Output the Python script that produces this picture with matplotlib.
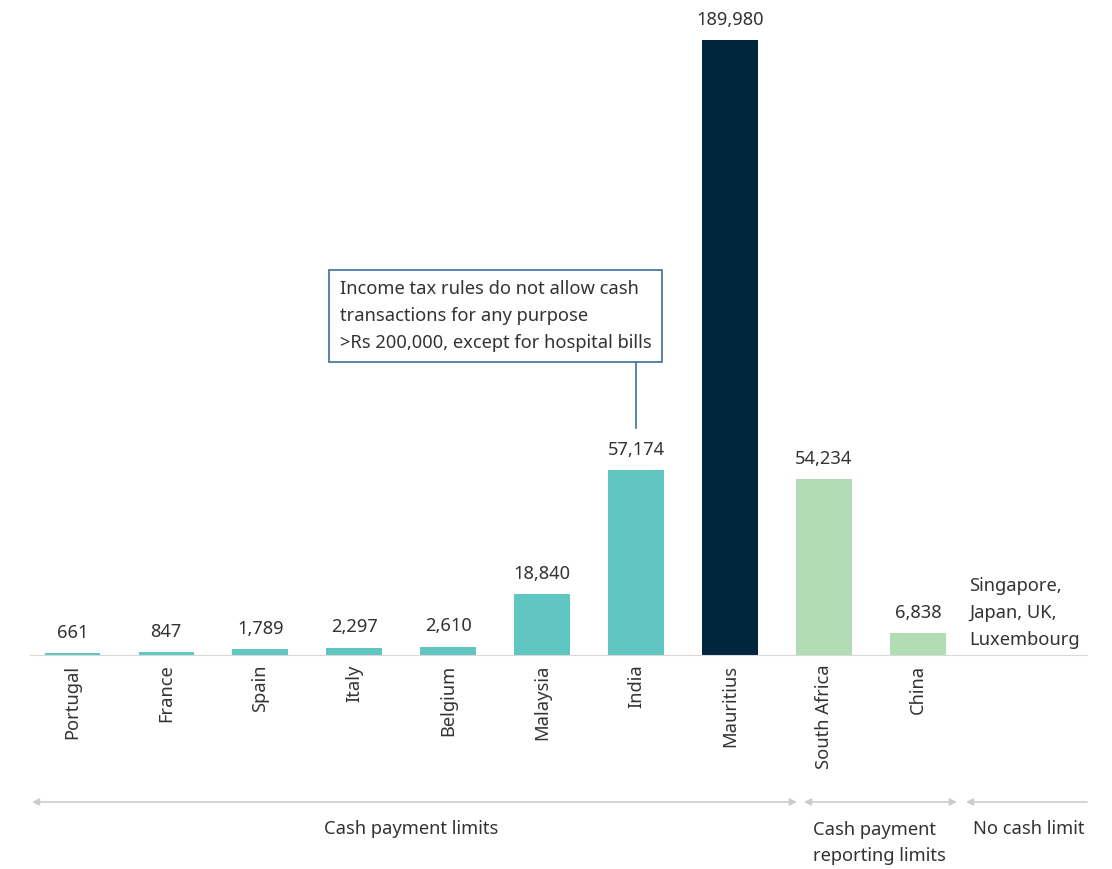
import matplotlib.pyplot as plt
from matplotlib.patches import FancyArrowPatch

plt.rcParams['font.family'] = ['Noto Sans', 'DejaVu Sans']

countries = ['Portugal', 'France', 'Spain', 'Italy', 'Belgium', 'Malaysia',
             'India', 'Mauritius', 'South Africa', 'China']
limits = [661, 847, 1789, 2297, 2610, 18840, 57174, 189980, 54234, 6838]
groups = ['pay', 'pay', 'pay', 'pay', 'pay', 'pay', 'pay', 'mau', 'rep', 'rep']

colours = {'pay': '#5fc6c2', 'mau': '#00263e', 'rep': '#b1dcb4'}
txt = '#333333'
fs = 13.2

fig = plt.figure(figsize=(11.12, 8.69), dpi=100)
ax = fig.add_axes([30 / 1112, 1 - 655 / 869, 1057 / 1112, 645 / 869])

x = list(range(len(countries)))
ax.bar(x, limits, width=0.59, color=[colours[g] for g in groups])
for xi, v in zip(x, limits):
    ax.text(xi, v + 3500, f'{v:,}', ha='center', va='bottom', fontsize=fs, color=txt)

ax.set_xlim(-0.45, 10.8)
ax.set_ylim(0, 199300)
ax.set_xticks(x)
ax.set_xticklabels(countries, rotation=90, fontsize=fs, color=txt)
ax.tick_params(axis='x', length=0, pad=7)
ax.set_yticks([])
for s in ['top', 'right', 'left']:
    ax.spines[s].set_visible(False)
ax.spines['bottom'].set_color('#d9d9d9')

# no-limit countries
ax.text(9.55, 2000, 'Singapore,\nJapan, UK,\nLuxembourg', ha='left', va='bottom',
        fontsize=fs, color=txt, linespacing=1.62)

# India note
india = countries.index('India')
ax.plot([india, india], [70100, 90500], color='#3d6e99', lw=1.2)
ax.text(2.85, 104800, 'Income tax rules do not allow cash\ntransactions for any purpose\n>Rs 200,000, except for hospital bills',
        ha='left', va='center', fontsize=fs, color=txt, linespacing=1.62,
        bbox=dict(boxstyle='square,pad=0.58', fc='white', ec='#3d6e99', lw=1.2))

# group brackets below the axis
def fx(px):
    return px / 1112

def fy(py):
    return 1 - py / 869

arr = dict(arrowstyle='<|-|>,head_length=0.5,head_width=0.25', color='#cccccc', lw=1.2,
           shrinkA=0, shrinkB=0, mutation_scale=8, transform=fig.transFigure)
fig.add_artist(FancyArrowPatch((fx(32), fy(802)), (fx(797), fy(802)), **arr))
fig.add_artist(FancyArrowPatch((fx(804), fy(802)), (fx(957), fy(802)), **arr))
arr3 = dict(arr, arrowstyle='<|-,head_length=0.5,head_width=0.25')
fig.add_artist(FancyArrowPatch((fx(966), fy(802)), (fx(1087), fy(802)), **arr3))

fig.text(fx(411), fy(829), 'Cash payment limits', ha='center', va='center', fontsize=fs, color=txt)
fig.text(fx(813), fy(843), 'Cash payment\nreporting limits', ha='left', va='center',
         fontsize=fs, color=txt, linespacing=1.62)
fig.text(fx(973), fy(829), 'No cash limit', ha='left', va='center', fontsize=fs, color=txt)

fig.savefig('out.png', dpi=100)
